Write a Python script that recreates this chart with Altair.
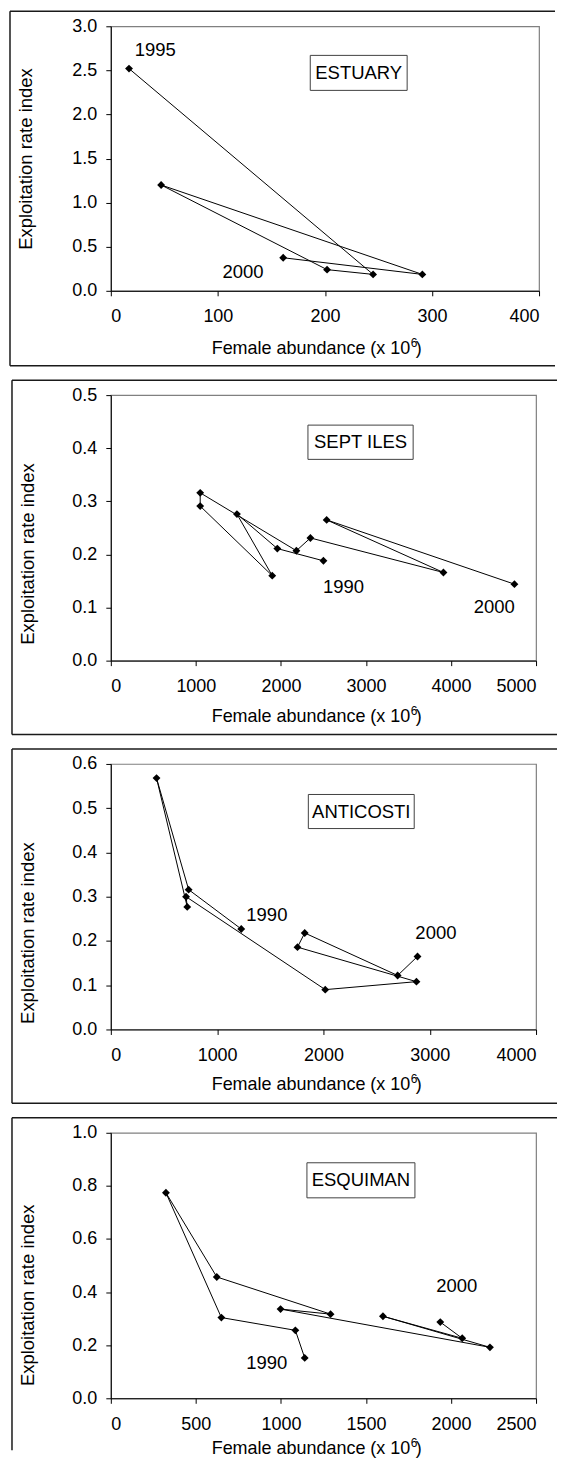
import altair as alt
import pandas as pd

FONT = "Liberation Sans"

# ---------------- data ----------------
# ESTUARY 1995-2000
est_year = [1995, 1996, 1997, 1998, 1999, 2000]
est_abund = [17, 245, 202, 47, 291, 161]
est_rate = [2.52, 0.186, 0.24, 1.20, 0.186, 0.375]

# SEPT ILES 1990-2000
sep_year = [1990, 1991, 1992, 1993, 1994, 1995, 1996, 1997, 1998, 1999, 2000]
sep_abund = [2500, 1958, 1483, 1898, 1051, 1051, 2182, 2347, 3911, 2538, 4746]
sep_rate = [0.188, 0.211, 0.276, 0.160, 0.291, 0.316, 0.207, 0.231, 0.166, 0.265, 0.144]

# ANTICOSTI 1990-2000
ant_year = [1990, 1991, 1992, 1993, 1994, 1995, 1996, 1997, 1998, 1999, 2000]
ant_abund = [1227, 732, 430, 719, 708, 2017, 2875, 1756, 1824, 2698, 2885]
ant_rate = [0.227, 0.316, 0.568, 0.277, 0.300, 0.090, 0.108, 0.186, 0.218, 0.122, 0.165]

# ESQUIMAN 1990-2000
esq_year = [1990, 1991, 1992, 1993, 1994, 1995, 1996, 1997, 1998, 1999, 2000]
esq_abund = [1140, 1085, 650, 324, 623, 1292, 998, 2229, 1600, 2066, 1937]
esq_rate = [0.152, 0.256, 0.304, 0.774, 0.457, 0.317, 0.336, 0.192, 0.309, 0.226, 0.287]

# year annotations (data coordinates)
est_note_text = ["1995", "2000"]
est_note_x = [41.5, 123.5]
est_note_y = [2.73, 0.21]
sep_note_text = ["1990", "2000"]
sep_note_x = [2737, 4508]
sep_note_y = [0.139, 0.101]
ant_note_text = ["1990", "2000"]
ant_note_x = [1468, 3058]
ant_note_y = [0.258, 0.218]
esq_note_text = ["1990", "2000"]
esq_note_x = [917, 2034]
esq_note_y = [0.132, 0.422]

# region name boxes (data coordinates: x1, x2, y1, y2)
region_names = ["ESTUARY", "SEPT ILES", "ANTICOSTI", "ESQUIMAN"]
region_box = [
    [186.3, 276.8, 2.273, 2.67],
    [2318, 3555, 0.379, 0.4435],
    [1858, 2854, 0.454, 0.531],
    [1153, 1788, 0.755, 0.887],
]

# axis setups
x_max = [400, 5000, 4000, 2500]
x_step = [100, 1000, 1000, 500]
y_max = [3.0, 0.5, 0.6, 1.0]
y_step = [0.5, 0.1, 0.1, 0.2]
x_title_main = [
    "Female abundance (x 10",
    "Female abundance  (x 10",
    "Female abundance  (x 10",
    "Female abundance  (x 10",
]
x_title_sup = "6"
x_title_end = ")"
y_title = "Exploitation rate index"


def frange(stop, step):
    n = int(round(stop / step))
    return [round(i * step, 6) for i in range(n + 1)]


def panel(i, year, abund, rate, ntext, nx, ny, W, H, left_off, ytitle_y, xt_off, frame_bottom, draw_bottom):
    df = pd.DataFrame({"x": abund, "y": rate, "year": year})
    notes = pd.DataFrame({"x": nx, "y": ny, "t": ntext})
    b = region_box[i]
    box = pd.DataFrame({"x": [b[0]], "x2": [b[1]], "y": [b[2]], "y2": [b[3]],
                        "cx": [(b[0] + b[1]) / 2], "cy": [(b[2] + b[3]) / 2],
                        "t": [region_names[i]]})

    xsc = alt.Scale(domain=[0, x_max[i]], nice=False, zero=True)
    ysc = alt.Scale(domain=[0, y_max[i]], nice=False, zero=True)
    xax = alt.Axis(values=frange(x_max[i], x_step[i]), format="d", title=None)
    yax = alt.Axis(values=frange(y_max[i], y_step[i]), format=".1f",
                   title=y_title,
                   titleX=left_off + 16, titleY=ytitle_y, titleAlign="center",
                   titleBaseline="middle", titleAngle=-90)

    X = alt.X("x:Q", scale=xsc, axis=xax)
    Y = alt.Y("y:Q", scale=ysc, axis=yax)

    line = alt.Chart(df).mark_line(color="black", strokeWidth=1).encode(
        x=X, y=Y, order="year:O")
    pts = alt.Chart(df).mark_point(shape="diamond", filled=True, size=62,
                                   color="black", opacity=1).encode(x=X, y=Y)
    note = alt.Chart(notes).mark_text(font=FONT, fontSize=18.5, color="black").encode(
        x=X, y=Y, text="t:N")
    rect = alt.Chart(box).mark_rect(fill="white", stroke="#404040", strokeWidth=1).encode(
        x=X, x2="x2:Q", y=Y, y2="y2:Q")
    rtext = alt.Chart(box).mark_text(font=FONT, fontSize=18.5, color="black").encode(
        x=alt.X("cx:Q", scale=xsc, axis=xax), y=alt.Y("cy:Q", scale=ysc, axis=yax), text="t:N")

    one = pd.DataFrame({"a": [0]})
    # x-axis title with superscript
    tb = H + xt_off
    t_main = alt.Chart(one).mark_text(font=FONT, fontSize=18, align="right", baseline="alphabetic",
                                      color="black").encode(
        x=alt.value(300), y=alt.value(tb), text=alt.value(x_title_main[i]))
    t_sup = alt.Chart(one).mark_text(font=FONT, fontSize=12, align="left", baseline="alphabetic",
                                     color="black").encode(
        x=alt.value(300.5), y=alt.value(tb - 7), text=alt.value(x_title_sup))
    t_end = alt.Chart(one).mark_text(font=FONT, fontSize=18, align="left", baseline="alphabetic",
                                     color="black").encode(
        x=alt.value(305.5), y=alt.value(tb), text=alt.value(x_title_end))

    R = left_off + 546
    T = -15
    fr = dict(color="#1a1a1a", strokeWidth=1.5)
    layers = []
    top = alt.Chart(one).mark_rule(**fr).encode(x=alt.value(left_off), x2=alt.value(R), y=alt.value(T))
    lft = alt.Chart(one).mark_rule(**fr).encode(x=alt.value(left_off), y=alt.value(T), y2=alt.value(frame_bottom))
    layers += [top, lft]
    if draw_bottom:
        bot = alt.Chart(one).mark_rule(**fr).encode(x=alt.value(left_off), x2=alt.value(R), y=alt.value(frame_bottom))
        layers.append(bot)

    layers += [line, pts, note, rect, rtext, t_main, t_sup, t_end]
    return alt.layer(*layers).properties(width=W, height=H)


p1 = panel(0, est_year, est_abund, est_rate, est_note_text, est_note_x, est_note_y,
           429, 265, -101, 132.5, 63, 340, True)
p2 = panel(1, sep_year, sep_abund, sep_rate, sep_note_text, sep_note_x, sep_note_y,
           426, 266, -99, 158.7, 61, 340, True)
p3 = panel(2, ant_year, ant_abund, ant_rate, ant_note_text, ant_note_x, ant_note_y,
           426, 266, -99, 169, 61, 340, True)
p4 = panel(3, esq_year, esq_abund, esq_rate, esq_note_text, esq_note_x, esq_note_y,
           426, 266, -99, 162.3, 56, 318, False)

chart = alt.vconcat(p1, p2, p3, p4, spacing=10.5).properties(
    padding={"left": 0, "top": 0, "right": 0, "bottom": 0}
).configure_view(
    stroke="#808080", strokeWidth=1.2
).configure_axis(
    grid=False, domainColor="black", tickColor="black", labelColor="black",
    titleColor="black", labelFont=FONT, titleFont=FONT, labelFontSize=18,
    titleFontSize=18.5, titleFontWeight="normal", tickSize=5, domainWidth=1, tickWidth=1
).configure_axisY(labelPadding=9).configure_axisX(labelPadding=12)

chart.save("out.html", embed_options={"renderer": "svg", "actions": False})
